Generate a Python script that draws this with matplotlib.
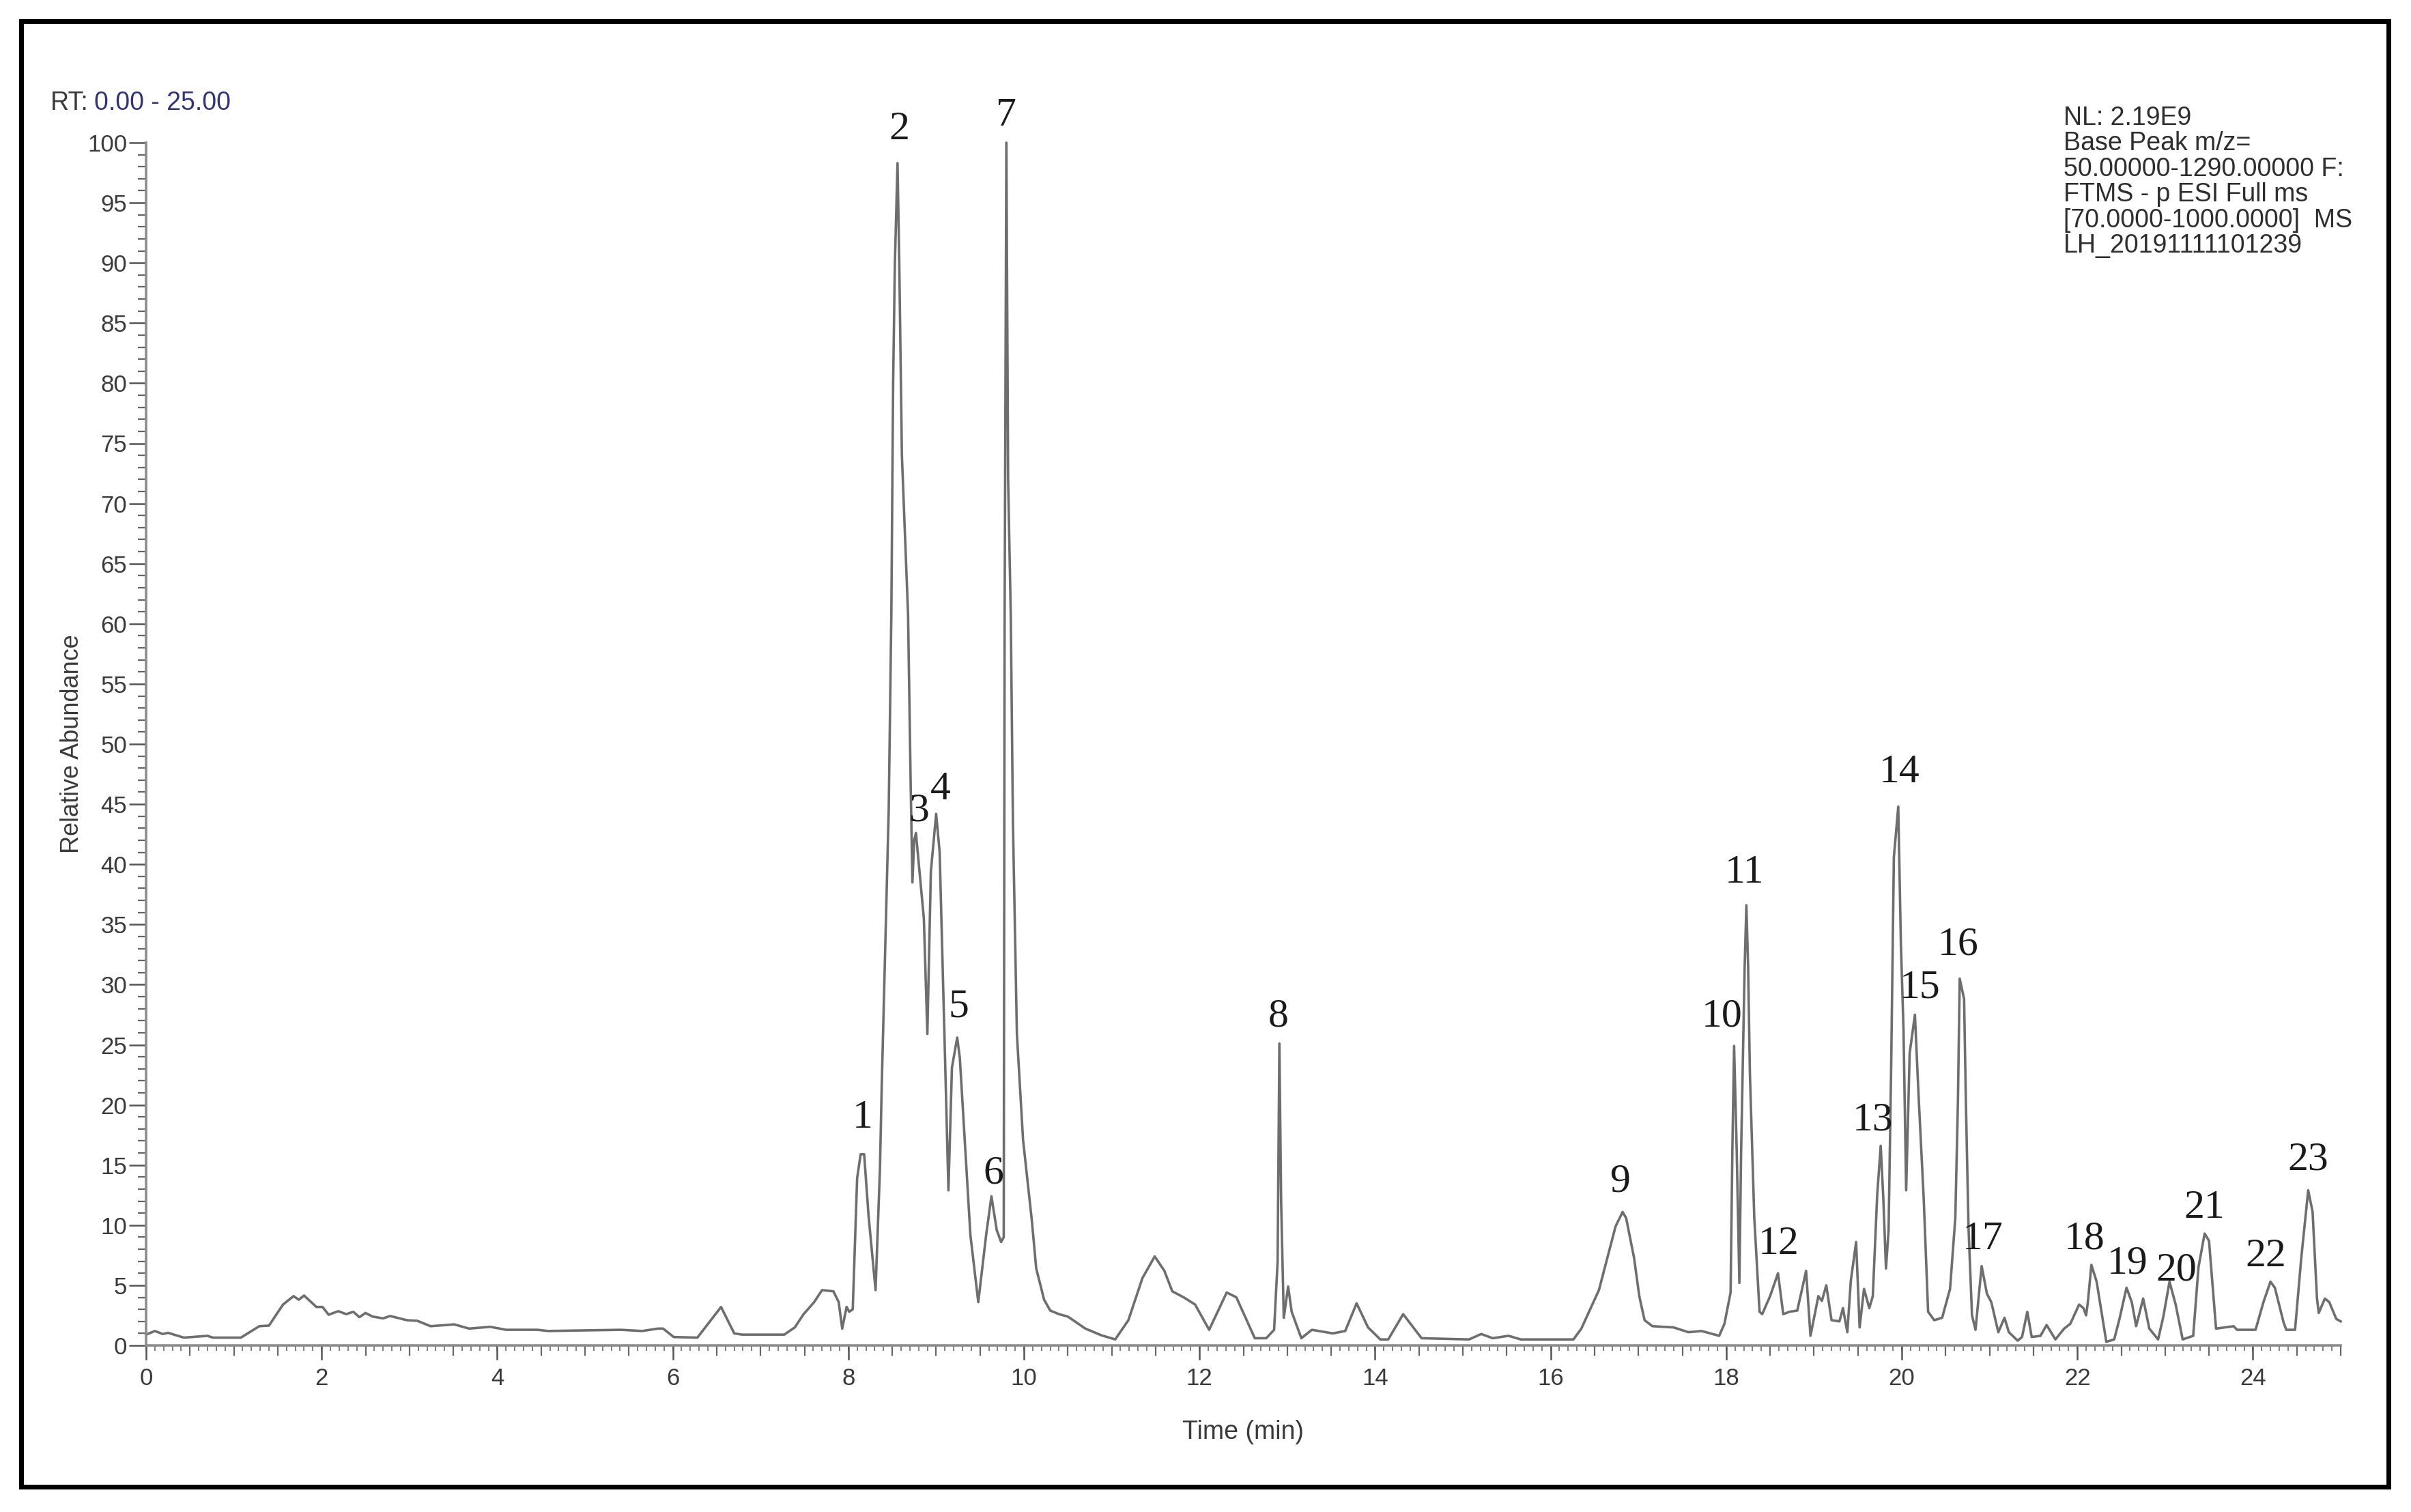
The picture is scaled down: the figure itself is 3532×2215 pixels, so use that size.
import numpy as np
import matplotlib
matplotlib.use('Agg')
import matplotlib.pyplot as plt
from matplotlib.patches import Rectangle

# Cromatograma: tempo (min) e abundância relativa (%)
tempo = [0.00, 0.10, 0.19, 0.25, 0.43, 0.70, 0.76, 1.08, 1.29, 1.40, 1.56, 1.68, 1.74, 1.80, 1.94,
         2.01, 2.08, 2.19, 2.28, 2.36, 2.43, 2.50, 2.58, 2.70, 2.78, 2.97, 3.09, 3.24, 3.51, 3.68,
         3.92, 4.10, 4.46, 4.58, 5.41, 5.65, 5.83, 5.89, 6.01, 6.28, 6.55, 6.70, 6.79, 7.27, 7.39,
         7.49, 7.61, 7.70, 7.83, 7.89, 7.93, 7.98, 8.01, 8.05, 8.10, 8.14, 8.18, 8.23, 8.31, 8.36,
         8.38, 8.43, 8.46, 8.49, 8.51, 8.53, 8.56, 8.58, 8.61, 8.68, 8.71, 8.73, 8.75, 8.77, 8.86,
         8.90, 8.94, 9.00, 9.04, 9.10, 9.14, 9.18, 9.24, 9.27, 9.39, 9.48, 9.57, 9.63, 9.69, 9.74,
         9.77, 9.78, 9.80, 9.82, 9.85, 9.875, 9.92, 9.99, 10.09, 10.14, 10.23, 10.30, 10.40, 10.50,
         10.58, 10.70, 10.88, 11.04, 11.19, 11.35, 11.49, 11.60, 11.69, 11.82, 11.95, 12.11, 12.31,
         12.42, 12.63, 12.76, 12.85, 12.89, 12.91, 12.93, 12.96, 13.01, 13.05, 13.16, 13.28, 13.52,
         13.66, 13.79, 13.92, 14.06, 14.15, 14.32, 14.53, 15.07, 15.21, 15.34, 15.52, 15.66, 16.26,
         16.35, 16.55, 16.65, 16.74, 16.82, 16.86, 16.95, 17.01, 17.07, 17.16, 17.40, 17.57, 17.72,
         17.92, 17.98, 18.05, 18.07, 18.09, 18.12, 18.15, 18.17, 18.21, 18.23, 18.25, 18.27, 18.32,
         18.38, 18.41, 18.50, 18.59, 18.65, 18.72, 18.81, 18.91, 18.96, 19.05, 19.09, 19.14, 19.20,
         19.29, 19.33, 19.38, 19.42, 19.48, 19.52, 19.57, 19.63, 19.67, 19.72, 19.76, 19.79, 19.82,
         19.85, 19.88, 19.91, 19.96, 19.99, 20.02, 20.05, 20.09, 20.15, 20.19, 20.25, 20.30, 20.37,
         20.46, 20.55, 20.61, 20.64, 20.66, 20.71, 20.73, 20.76, 20.80, 20.84, 20.91, 20.97, 21.02,
         21.10, 21.17, 21.22, 21.32, 21.37, 21.43, 21.48, 21.58, 21.65, 21.75, 21.85, 21.92, 22.02,
         22.07, 22.10, 22.12, 22.16, 22.22, 22.33, 22.42, 22.48, 22.56, 22.62, 22.67, 22.75, 22.82,
         22.92, 22.98, 23.05, 23.12, 23.20, 23.32, 23.38, 23.45, 23.50, 23.58, 23.78, 23.82, 24.03,
         24.12, 24.20, 24.25, 24.35, 24.38, 24.48, 24.55, 24.63, 24.68, 24.73, 24.75, 24.82, 24.87,
         24.95, 25.00]
abundancia = [0.9, 1.2, 0.95, 1.05, 0.65, 0.8, 0.65, 0.65, 1.6, 1.65, 3.4, 4.1, 3.8, 4.15, 3.2,
              3.2, 2.55, 2.85, 2.6, 2.8, 2.35, 2.7, 2.4, 2.25, 2.45, 2.1, 2.05, 1.6, 1.75, 1.4,
              1.55, 1.3, 1.3, 1.2, 1.3, 1.2, 1.4, 1.4, 0.7, 0.65, 3.2, 1.0, 0.9, 0.9, 1.5,
              2.6, 3.6, 4.6, 4.5, 3.6, 1.4, 3.2, 2.8, 3.0, 13.9, 15.9, 15.9, 10.8, 4.6, 14.7,
              21.5, 35.9, 44.6, 61.0, 80.0, 90.0, 98.3, 90.0, 74.0, 60.8, 46.6, 38.5, 42.0, 42.6, 35.5,
              25.9, 39.4, 44.2, 41.0, 24.3, 12.9, 23.1, 25.6, 23.9, 9.2, 3.6, 9.2, 12.4, 9.6, 8.6,
              9.0, 60.0, 100.0, 72.0, 60.8, 43.4, 25.9, 17.1, 10.4, 6.4, 3.8, 2.9, 2.6, 2.4,
              2.0, 1.4, 0.85, 0.5, 2.1, 5.6, 7.4, 6.2, 4.5, 4.0, 3.4, 1.3, 4.4,
              4.0, 0.6, 0.6, 1.3, 7.0, 25.1, 12.0, 2.3, 4.9, 2.8, 0.6, 1.3, 1.0,
              1.2, 3.5, 1.5, 0.5, 0.5, 2.6, 0.6, 0.5, 0.95, 0.6, 0.8, 0.5, 0.5,
              1.4, 4.6, 7.4, 9.9, 11.1, 10.6, 7.3, 4.1, 2.1, 1.6, 1.5, 1.1, 1.2,
              0.8, 1.8, 4.4, 16.1, 24.9, 16.1, 5.2, 16.1, 31.4, 36.6, 31.4, 22.6, 10.6,
              2.8, 2.6, 4.1, 6.0, 2.6, 2.8, 2.9, 6.2, 0.8, 4.1, 3.7, 5.0, 2.1,
              2.0, 3.1, 1.1, 5.4, 8.6, 1.5, 4.7, 3.1, 4.1, 12.5, 16.6, 12.2, 6.4,
              9.6, 23.6, 40.6, 44.8, 33.4, 26.2, 12.9, 24.3, 27.5, 21.0, 12.2, 2.8, 2.1,
              2.3, 4.7, 10.6, 20.4, 30.5, 28.8, 20.4, 9.9, 2.5, 1.3, 6.6, 4.3, 3.6,
              1.1, 2.3, 1.1, 0.4, 0.7, 2.8, 0.7, 0.8, 1.7, 0.5, 1.4, 1.8, 3.4,
              3.1, 2.5, 3.6, 6.7, 5.3, 0.3, 0.5, 2.2, 4.8, 3.6, 1.6, 3.9, 1.4,
              0.5, 2.4, 5.3, 3.4, 0.5, 0.8, 6.5, 9.3, 8.7, 1.4, 1.6, 1.3, 1.3,
              3.6, 5.3, 4.8, 1.9, 1.3, 1.3, 7.2, 12.9, 11.1, 3.9, 2.7, 3.9, 3.6,
              2.2, 2.0]

# Numeração dos picos (posição do centro do texto)
picos = [str(i) for i in range(1, 24)]
pico_t = [8.16, 8.58, 8.81, 9.05, 9.26, 9.65, 9.80, 12.90, 16.79, 17.95, 18.21, 18.60,
          19.67, 19.97, 20.21, 20.64, 20.92, 22.08, 22.57, 23.13, 23.45, 24.15, 24.63]
pico_a = [19.3, 101.5, 44.8, 46.6, 28.5, 14.7, 102.6, 27.7, 14.0, 27.7, 39.7, 8.8,
          19.1, 48.0, 30.1, 33.7, 9.2, 9.2, 7.2, 6.6, 11.8, 7.8, 15.8]

info = ["NL: 2.19E9", "Base Peak m/z=", "50.00000-1290.00000 F:", "FTMS - p ESI Full ms",
        "[70.0000-1000.0000]  MS", "LH_20191111101239"]

W, H = 3532, 2215
fig = plt.figure(figsize=(W / 100, H / 100), dpi=100)
ax = fig.add_axes([214 / W, 1 - 1971 / H, (3429 - 214) / W, (1971 - 209) / H])

ax.plot(tempo, abundancia, color='#6e6e6e', lw=2.6, clip_on=False)

ax.set_xlim(0, 25)
ax.set_ylim(0, 100)
for s in ['top', 'right']:
    ax.spines[s].set_visible(False)
for s in ['left', 'bottom']:
    ax.spines[s].set_color('#8c8c8c')
    ax.spines[s].set_linewidth(2.6)

ax.set_xticks(np.arange(0, 25, 2))
ax.set_xticks(np.arange(0, 25.01, 0.5), minor=True)
ax.set_yticks(np.arange(0, 101, 5))
ax.set_yticks(np.arange(0, 101, 1), minor=True)
ax.tick_params(axis='x', which='major', length=15, width=1.8, color='#555555',
               labelsize=25, labelcolor='#3a3a3a', pad=8)
ax.tick_params(axis='x', which='minor', length=11, width=1.6, color='#666666')
ax.tick_params(axis='y', which='major', length=18, width=1.8, color='#555555',
               labelsize=25, labelcolor='#3a3a3a', pad=2)
ax.tick_params(axis='y', which='minor', length=9, width=1.6, color='#666666')
for lab in ax.get_xticklabels() + ax.get_yticklabels():
    lab.set_fontfamily('Liberation Sans')

# marcas menores a cada 0.1 min
sec = ax.secondary_xaxis('bottom')
sec.spines['bottom'].set_visible(False)
sec.set_xticks(np.arange(0, 25.01, 0.1))
sec.set_xticklabels([])
sec.tick_params(axis='x', length=6, width=1.3, color='#777777')

ax.set_xlabel('Time (min)', fontsize=27, family='Liberation Sans', color='#3a3a3a', labelpad=32)
ax.set_ylabel('Relative Abundance', fontsize=26, family='Liberation Sans', color='#3a3a3a', labelpad=4)

for p, t, a in zip(picos, pico_t, pico_a):
    ax.text(t, a - 0.4, p, fontsize=43, family='Liberation Serif', color='#1a1a1a',
            ha='center', va='center', clip_on=False)

# cabeçalho RT
rt = fig.text(74 / W, 1 - 151 / H, 'RT:', fontsize=27, family='Liberation Sans',
              color='#3a3a3a', ha='left', va='center')
ax.annotate('0.00 - 25.00', xy=(1, 0), xycoords=rt, xytext=(6, 0), textcoords='offset points',
            fontsize=27, family='Liberation Sans', color='#33337a', ha='left', va='bottom',
            annotation_clip=False)

fig.text(3023 / W, 1 - 155 / H, '\n'.join(info), fontsize=27, family='Liberation Sans',
         color='#2e2e2e', ha='left', va='top', linespacing=1.05)

# moldura
fig.patches.append(Rectangle((31 / W, 1 - 2178 / H), (3499 - 31) / W, (2178 - 31) / H,
                             transform=fig.transFigure, fill=False, lw=5, ec='black'))

fig.savefig('out.png', dpi=100, facecolor='white')
